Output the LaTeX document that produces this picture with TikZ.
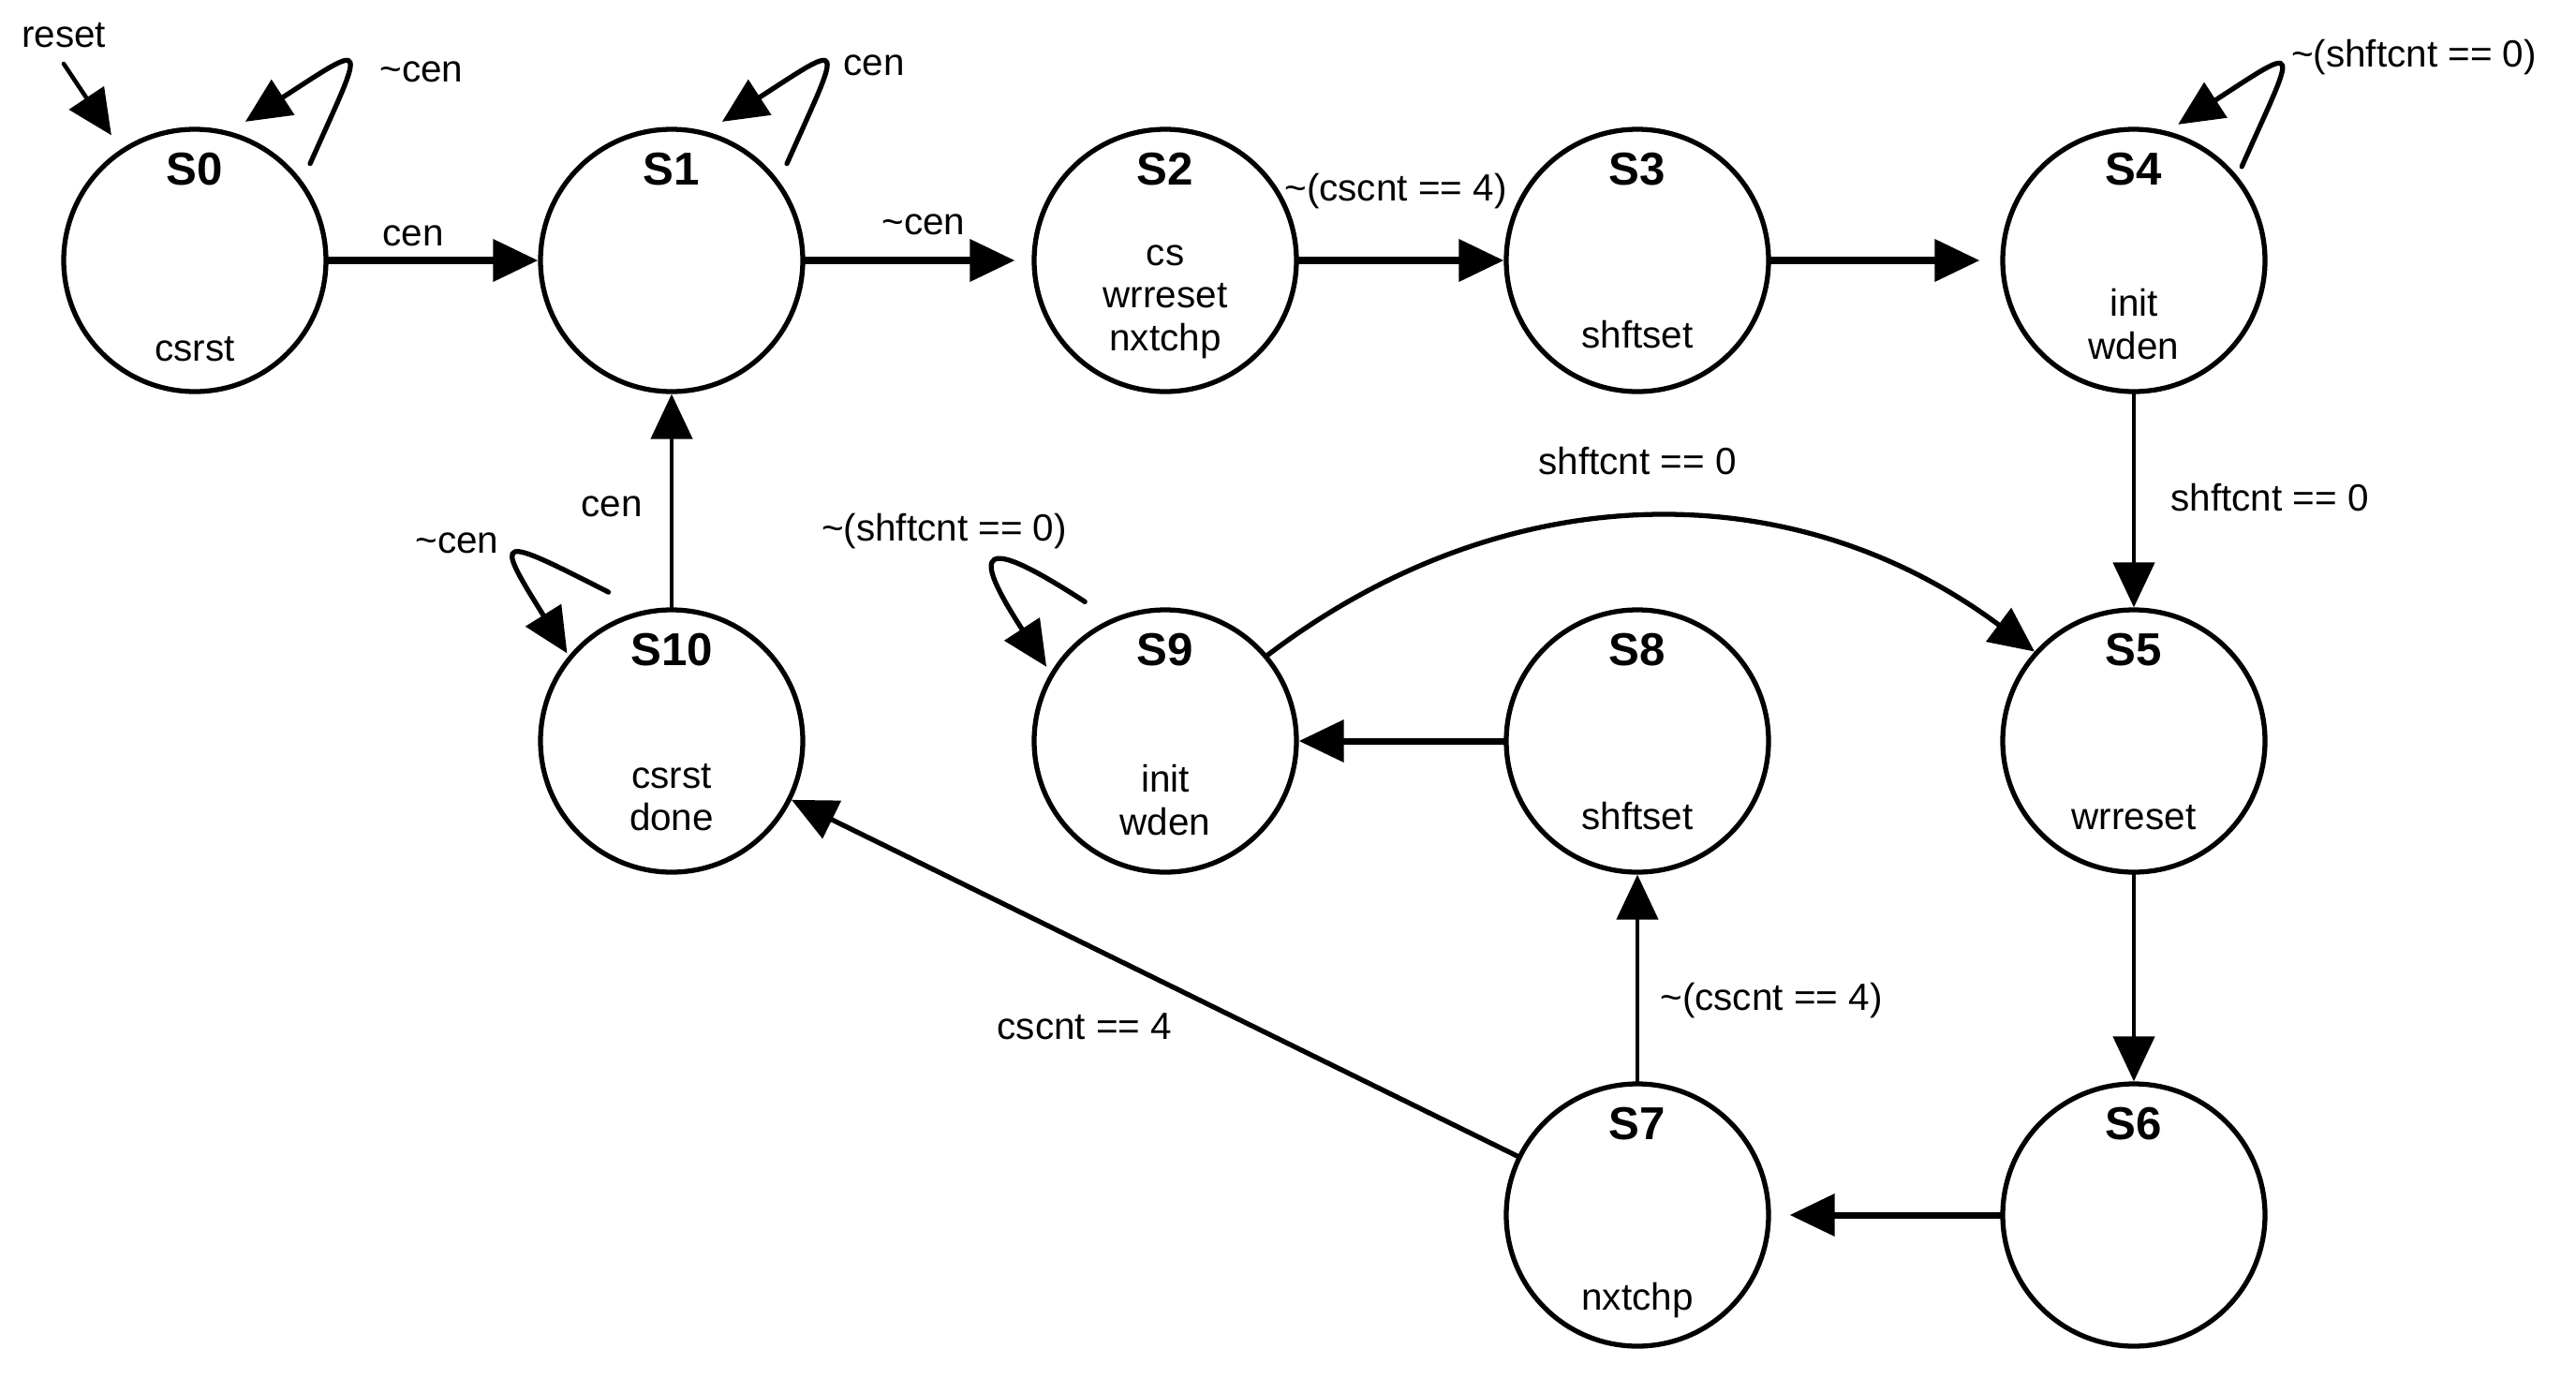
\documentclass[tikz,border=0pt]{standalone}
\usepackage{fontspec}
\setmainfont{Liberation Sans}
\usetikzlibrary{arrows.meta}
\begin{document}
\begin{tikzpicture}[line cap=round,>={Triangle[length=4.8mm,width=4.4mm]},
  state/.style={circle,draw,line width=1.5pt,minimum size=2.8cm,inner sep=0pt},
  sname/.style={font=\fontsize{14}{16}\selectfont\bfseries},
  act/.style={align=center,font=\fontsize{11.5}{13}\selectfont},
  lbl/.style={font=\fontsize{11.5}{13}\selectfont},
  hedge/.style={->,line width=2pt},
  vedge/.style={->,line width=1.3pt},
  dedge/.style={->,line width=1.5pt},
  selfloop/.style={->,line width=1.5pt}]
  \useasboundingbox (0,0) rectangle (27.5,-14.86);
  \foreach \n/\x/\y in {s0/2.08/-2.78,s1/7.17/-2.78,s2/12.44/-2.78,s3/17.48/-2.78,s4/22.78/-2.78,
                        s10/7.17/-7.91,s9/12.44/-7.91,s8/17.48/-7.91,s5/22.78/-7.91,
                        s7/17.48/-12.97,s6/22.78/-12.97}
    \node[state] (\n) at (\x,\y) {};
  \foreach \n/\t in {s0/S0,s1/S1,s2/S2,s3/S3,s4/S4,s5/S5,s6/S6,s7/S7,s8/S8,s9/S9,s10/S10}
    \node[sname] (\n-t) at ([yshift=9.7mm]\n.center) {\t};
  \node[act,anchor=base] (a0) at ([yshift=-10.7mm]s0.center) {csrst};
  \node[act] (a2) at ([yshift=-4.4mm]s2.center) {cs\\wrreset\\nxtchp};
  \node[act,anchor=base] (a3) at ([yshift=-9.3mm]s3.center) {shftset};
  \node[act] (a4) at ([yshift=-6.8mm]s4.center) {init\\wden};
  \node[act,anchor=base] (a5) at ([yshift=-9.4mm]s5.center) {wrreset};
  \node[act,anchor=base] (a7) at ([yshift=-10.1mm]s7.center) {nxtchp};
  \node[act,anchor=base] (a8) at ([yshift=-9.4mm]s8.center) {shftset};
  \node[act] (a9) at ([yshift=-6.3mm]s9.center) {init\\wden};
  \node[act] (a10) at ([yshift=-6mm]s10.center) {csrst\\done};

  \coordinate (rst) at (0.68,-0.68);
  \node[lbl] (lrst) at (0.68,-0.38) {reset};
  \draw[vedge,shorten >=1.8mm] (rst) -- (s0);

  \draw[selfloop] ([shift={(40:1.8mm)}]s0.40) .. controls +(66:1.45) and +(33:1.6) .. ([shift={(70:1.5mm)}]s0.70);
  \draw[selfloop] ([shift={(40:1.8mm)}]s1.40) .. controls +(66:1.45) and +(33:1.6) .. ([shift={(70:1.5mm)}]s1.70);
  \draw[selfloop] ([shift={(41:1mm)}]s4.41) .. controls +(66:1.45) and +(33:1.6) .. ([shift={(72:1mm)}]s4.72);
  \draw[selfloop] ([shift={(113:3mm)}]s10.113) .. controls +(153:1.35) and +(122:1.5) .. ([shift={(140:0.3mm)}]s10.140);
  \draw[selfloop] ([shift={(120:2.9mm)}]s9.120) .. controls +(147:1.35) and +(123:1.5) .. ([shift={(148:0.7mm)}]s9.148);

  \draw[hedge] (s0) -- (s1);
  \draw[hedge,shorten >=1.8mm] (s1) -- (s2);
  \draw[hedge] (s2) -- (s3);
  \draw[hedge,shorten >=2.2mm] (s3) -- (s4);
  \draw[vedge] (s4) -- (s5);
  \draw[vedge] (s5) -- (s6);
  \draw[hedge,shorten >=2mm] (s6) -- (s7);
  \draw[vedge] (s7) -- (s8);
  \draw[hedge] (s8) -- (s9);
  \draw[dedge] (s7) -- (s10);
  \draw[vedge] (s10) -- (s1);
  \draw[dedge] (s9.40) to[bend left=37] (s5.138);

  \node[lbl] (c00) at (4.50,-0.77) {\textasciitilde cen};
  \node[lbl] (c01) at (4.41,-2.52) {cen};
  \node[lbl] (c11) at (9.33,-0.70) {cen};
  \node[lbl] (c12) at (9.86,-2.40) {\textasciitilde cen};
  \node[lbl] (c23) at (14.90,-2.04) {\textasciitilde(cscnt == 4)};
  \node[lbl] (c44) at (25.77,-0.61) {\textasciitilde(shftcnt == 0)};
  \node[lbl] (c45) at (24.23,-5.31) {shftcnt == 0};
  \node[lbl] (c95) at (17.48,-4.92) {shftcnt == 0};
  \node[lbl] (c101) at (6.53,-5.41) {cen};
  \node[lbl] (c1010) at (4.88,-5.80) {\textasciitilde cen};
  \node[lbl] (c99) at (10.08,-5.67) {\textasciitilde(shftcnt == 0)};
  \node[lbl] (c78) at (18.91,-10.68) {\textasciitilde(cscnt == 4)};
  \node[lbl] (c710) at (11.58,-10.96) {cscnt == 4};
\end{tikzpicture}
\end{document}
